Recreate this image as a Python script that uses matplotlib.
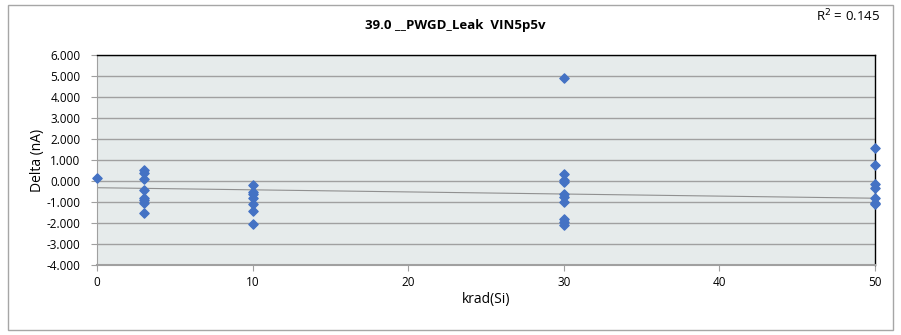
import matplotlib.pyplot as plt
import numpy as np

# Data
krad_0 = [0]
delta_0 = [0.15]
krad_3 = [3] * 8
delta_3 = [0.51, 0.40, 0.11, -0.44, -0.79, -0.92, -1.03, -1.51]
krad_10 = [10] * 7
delta_10 = [-0.20, -0.52, -0.62, -0.82, -1.11, -1.43, -2.06]
krad_30 = [30] * 10
delta_30 = [4.92, 0.35, 0.05, -0.05, -0.63, -0.75, -1.00, -1.79, -1.95, -2.10]
krad_50 = [50] * 7
delta_50 = [1.56, 0.76, -0.16, -0.32, -0.79, -1.03, -1.10]

# trendline as shown in the chart (Excel)
trend_x = [0, 50]
trend_y = [-0.32, -0.82]

x = np.array(krad_0 + krad_3 + krad_10 + krad_30 + krad_50, dtype=float)
y = np.array(delta_0 + delta_3 + delta_10 + delta_30 + delta_50)

title = "39.0 __PWGD_Leak  VIN5p5v"
r2_text = "R$^2$ = 0.145"
yticks = np.arange(-4, 7, 1)
xticks = [0, 10, 20, 30, 40, 50]

plt.rcParams['font.family'] = ['Open Sans', 'DejaVu Sans']

fig = plt.figure(figsize=(9.01, 3.35), dpi=100)
ax = fig.add_axes([97 / 901, 1 - 265 / 335, (875 - 97) / 901, (265 - 55) / 335])

# Outer chart border
fig.patches.append(plt.Rectangle((8 / 901, 5 / 335), 885 / 901, 325 / 335,
                                 transform=fig.transFigure, fill=False,
                                 edgecolor='#a6a6a6', linewidth=1))

ax.set_facecolor('#e6ebeb')
ax.set_xlim(0, 50)
ax.set_ylim(-4, 6)
ax.set_yticks(yticks)
ax.set_yticklabels([f"{v:.3f}" for v in yticks], fontsize=8.5)
ax.set_xticks(xticks)
ax.set_xticklabels([str(v) for v in xticks], fontsize=8.5)
ax.grid(axis='y', color='#a0a0a0', linewidth=1)
ax.set_axisbelow(True)
ax.tick_params(axis='both', direction='out', length=4, color='#a0a0a0', width=0.8)
ax.tick_params(axis='x', pad=4)
ax.tick_params(axis='y', pad=8)

for side in ['top', 'right']:
    ax.spines[side].set_color('black')
    ax.spines[side].set_linewidth(1)
ax.spines['left'].set_color('#a0a0a0')
ax.spines['bottom'].set_color('#a0a0a0')
ax.spines['bottom'].set_linewidth(1.5)

ax.plot(trend_x, trend_y, color='#909090', linewidth=0.8, zorder=2)

ax.scatter(x, y, marker='D', s=22, color='#4472c4', zorder=3, clip_on=False)

ax.set_xlabel("krad(Si)", fontsize=10, labelpad=2)
ax.set_ylabel("Delta (nA)", fontsize=10, labelpad=1)

fig.text(455 / 901, 1 - 25 / 335, title, ha='center', va='center',
         fontsize=9.5, fontweight='bold')
fig.text(848 / 901, 1 - 16 / 335, r2_text, ha='center', va='center', fontsize=9.5)

fig.savefig("out.png", dpi=100)
